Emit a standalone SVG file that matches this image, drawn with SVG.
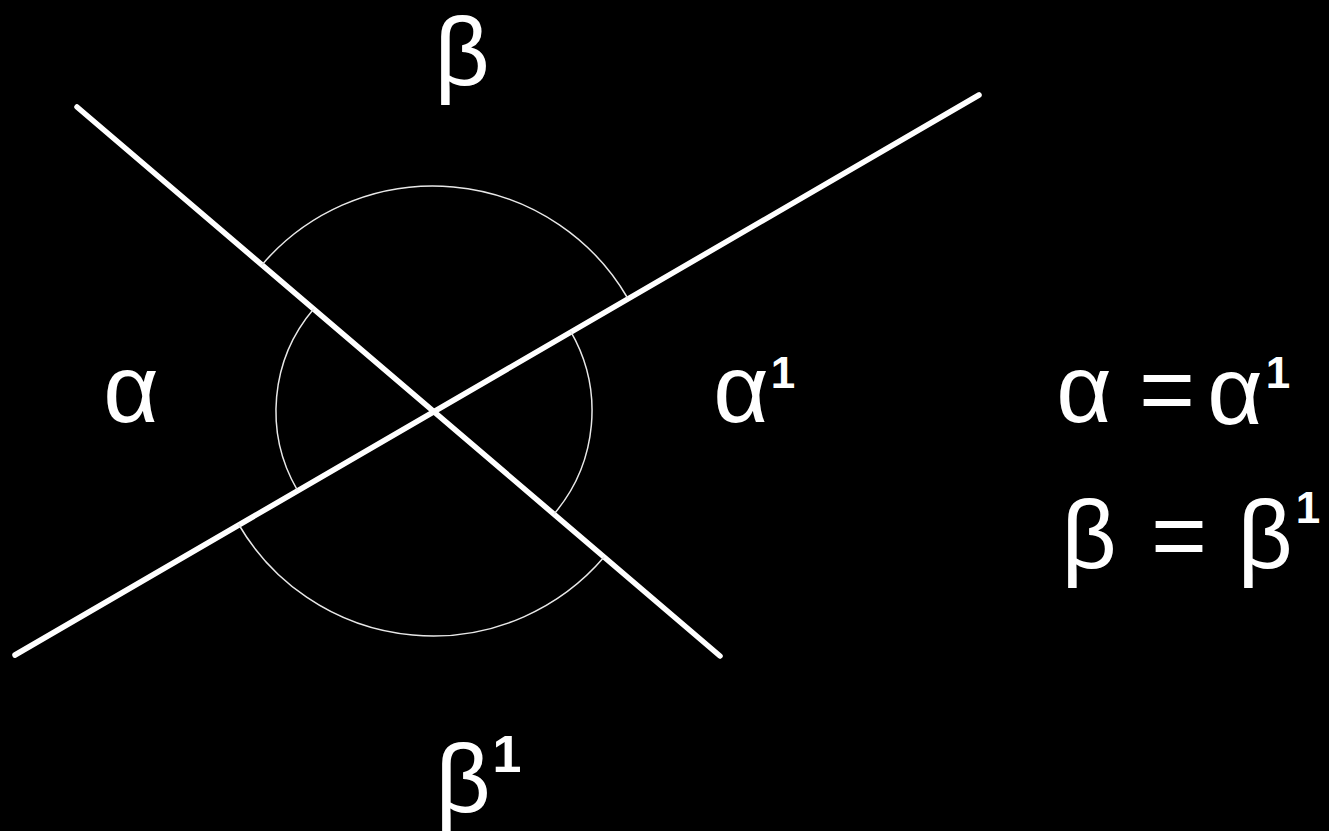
<svg xmlns="http://www.w3.org/2000/svg" width="1329" height="831" viewBox="0 0 1329 831">
<style>
.bg{fill:#000}
.ln{stroke:#fff;stroke-width:5.5;stroke-linecap:round;fill:none}
.arc{stroke:#e8e8e8;stroke-width:1.5;fill:none}
.t{fill:#fff;font-family:"Liberation Sans",Arial,sans-serif;font-size:96px;text-anchor:middle}
.s{font-size:44px;font-weight:bold}
</style>
<rect class="bg" x="0" y="0" width="1329" height="831"/>
<g id="connectors">
<line class="ln" x1="77" y1="107" x2="720" y2="656"/>
<line class="ln" x1="15" y1="655" x2="979" y2="95"/>
</g>
<g id="arcs">
<path class="arc" d="M 261.9 264.9 A 225 225 0 0 1 627.6 298"/>
<path class="arc" d="M 604.1 557.1 A 225 225 0 0 1 238.4 524"/>
<path class="arc" d="M 297.2 489.9 A 157 157 0 0 1 313.6 309.1"/>
<path class="arc" d="M 570.5 331.1 A 159 159 0 0 1 553.9 514.2"/>
</g>
<g id="label-beta-top"><text class="t" x="462" y="85">β</text></g>
<g id="label-alpha-left"><text class="t" x="131" y="422">α</text></g>
<g id="label-alpha1-right"><text class="t" x="741" y="422">α</text><text class="t s" x="783" y="388">1</text></g>
<g id="label-beta1-bottom"><text class="t" x="463" y="812">β</text><text class="t s" x="507" y="772" style="font-size:52px">1</text></g>
<g id="eq-alpha">
<text class="t" x="1084" y="422">α</text>
<text class="t" x="1167" y="422">=</text>
<text class="t" x="1235" y="424">α</text>
<text class="t s" x="1278" y="388">1</text>
</g>
<g id="eq-beta">
<text class="t" x="1089" y="568">β</text>
<text class="t" x="1179" y="568">=</text>
<text class="t" x="1265" y="568">β</text>
<text class="t s" x="1308" y="523">1</text>
</g>
</svg>
